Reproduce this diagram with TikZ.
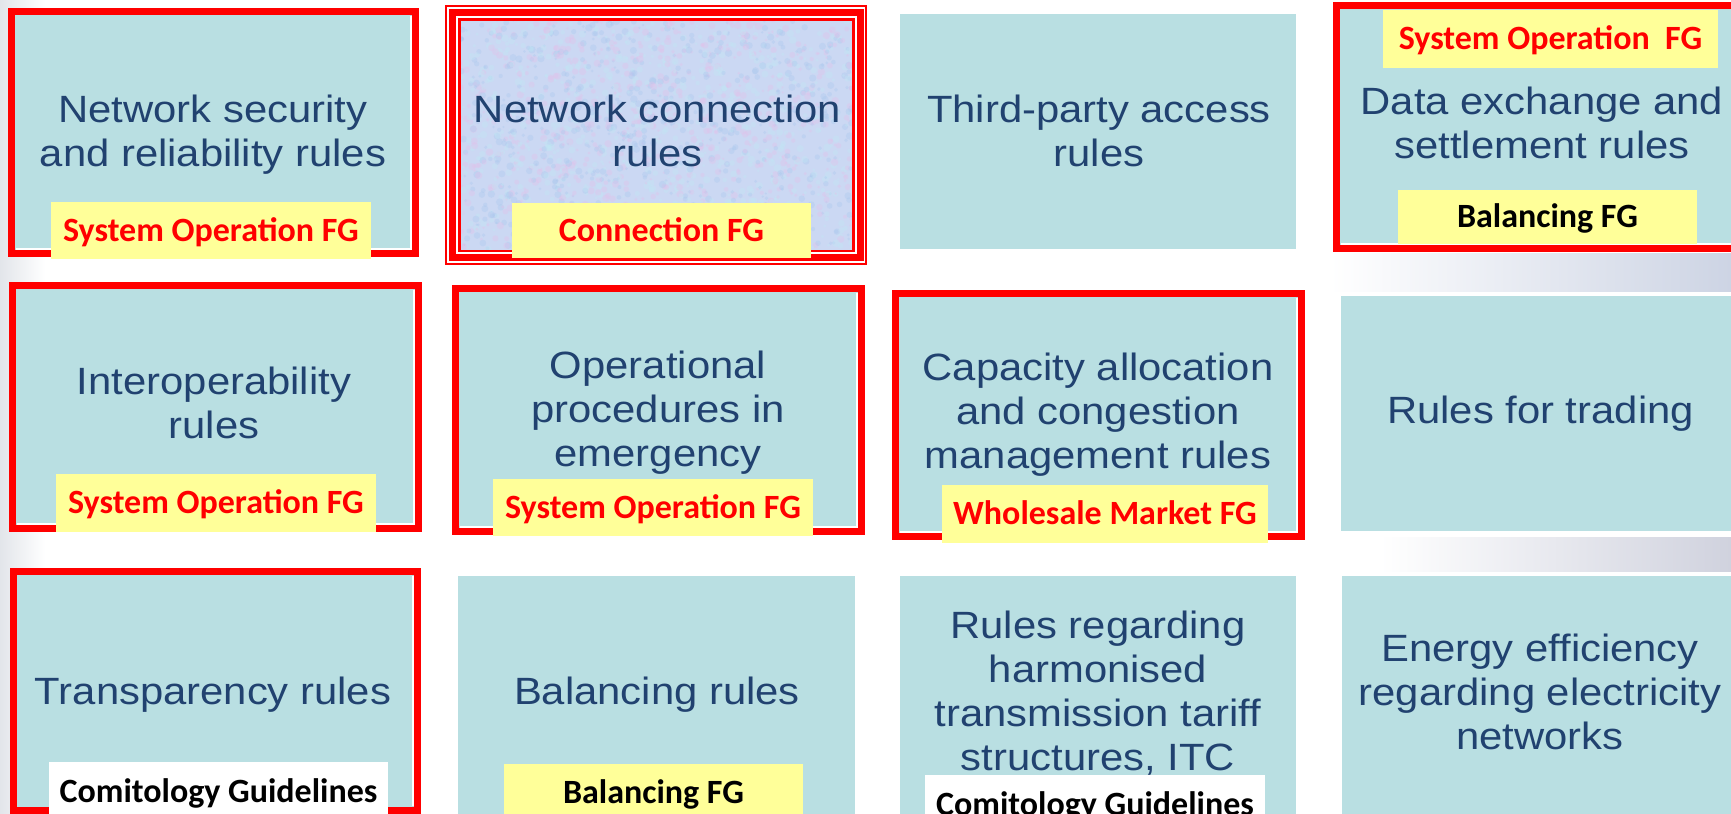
\documentclass[tikz,border=0pt]{standalone}
\usepackage{fontspec}
\setmainfont{Liberation Sans}[FakeStretch=1.1]
\newfontfamily\lblfont{Carlito}
\usetikzlibrary{fit}
\definecolor{tealfill}{RGB}{185,223,226}
\definecolor{txtblue}{RGB}{33,66,112}
\definecolor{lblyellow}{RGB}{255,255,153}
\definecolor{redline}{RGB}{255,0,0}
\definecolor{connfill}{RGB}{203,216,243}
\definecolor{tpink}{RGB}{228,192,234}
\definecolor{tblue}{RGB}{170,200,238}
\definecolor{tcyan}{RGB}{192,232,244}
\definecolor{bggrey}{RGB}{226,229,234}
\definecolor{stripA}{RGB}{205,212,228}
\definecolor{stripB}{RGB}{208,210,222}
\begin{document}
\begin{tikzpicture}[x=0.5pt,y=-0.5pt,
  plainbox/.style={inner sep=0pt, outer sep=0pt, fill=tealfill, draw=none},
  redbox/.style={plainbox, draw=redline, line width=3.3pt},
  thinred/.style={inner sep=0pt, outer sep=0pt, draw=redline},
  maintext/.style={font=\fontsize{19}{22}\selectfont, text=txtblue, align=center, inner sep=0pt},
  lbl/.style={inner sep=0pt, outer sep=0pt, fill=lblyellow, font=\lblfont\bfseries\fontsize{17}{18}\selectfont, text height=10.95pt, text depth=0pt},
  redlbl/.style={lbl, text=redline},
  blklbl/.style={lbl, text=black},
  whitelbl/.style={lbl, fill=white, text=black},
  innerwhite/.style={white, line width=1.3pt}
]
\useasboundingbox (0,0) rectangle (1731,814);
\clip (0,0) rectangle (1731,814);

% faint background
\shade[left color=bggrey, right color=white] (0,0) rectangle (45,814);
\shade[left color=white, right color=stripA] (1330,253) rectangle (1731,291);
\shade[left color=white, right color=stripB] (1380,537) rectangle (1731,571);

% ---- row 1 ----
\node[redbox, fit={(11.3,11.3) (415.7,253.7)}] (b1) {};
\draw[innerwhite] ([shift={(-2.3pt,-2.3pt)}]b1.north east) -- ([shift={(-2.3pt,2.3pt)}]b1.south east) -- ([shift={(2.3pt,2.3pt)}]b1.south west);

\node[inner sep=0pt, outer sep=0pt, fill=connfill, fit={(459.5,19.5) (853.5,251)}] (b2) {};
\begin{scope}
  \clip (459.5,19.5) rectangle (853.5,251);
  \pgfmathsetseed{7}
  \pgfmathdeclarerandomlist{texcols}{{tpink}{tblue}{tcyan}}
  \foreach \i in {1,...,2200}{
    \pgfmathsetmacro{\px}{459+395*rnd}
    \pgfmathsetmacro{\py}{19+232*rnd}
    \pgfmathsetmacro{\pr}{0.6+1.3*rnd}
    \pgfmathrandomitem{\cc}{texcols}
    \fill[\cc, opacity=0.35] (\px,\py) circle[radius=\pr pt];
  }
\end{scope}
\node[thinred, line width=1pt, fit={(446,6) (865.5,263.5)}] (b2outer) {};
\node[thinred, line width=3.5pt, fit={(452.5,12.5) (860,257.5)}] (b2mid) {};
\draw[redline, line width=1.15pt] (b2.south west) rectangle (b2.north east);

\node[plainbox, fit={(900,14) (1296,249)}] (b3) {};

\node[redbox, fit={(1336.3,5.3) (1760,248.7)}] (b4) {};
\draw[innerwhite] ([shift={(2.3pt,2.3pt)}]b4.south west) -- ([shift={(-2.3pt,2.3pt)}]b4.south east);

% ---- row 2 ----
\node[redbox, fit={(12.3,285.3) (418.7,528.7)}] (b5) {};
\draw[innerwhite] ([shift={(-2.3pt,-2.3pt)}]b5.north east) -- ([shift={(-2.3pt,2.3pt)}]b5.south east) -- ([shift={(2.3pt,2.3pt)}]b5.south west);
\node[redbox, fit={(455.3,288.3) (861.7,531.7)}] (b6) {};
\draw[innerwhite] ([shift={(-2.3pt,-2.3pt)}]b6.north east) -- ([shift={(-2.3pt,2.3pt)}]b6.south east) -- ([shift={(2.3pt,2.3pt)}]b6.south west);
\node[redbox, fit={(895.3,293.3) (1301.7,536.7)}] (b7) {};
\draw[innerwhite] ([shift={(-2.3pt,-2.3pt)}]b7.north east) -- ([shift={(-2.3pt,2.3pt)}]b7.south east) -- ([shift={(2.3pt,2.3pt)}]b7.south west);
\node[plainbox, fit={(1341,296) (1760,531)}] (b8) {};

% ---- row 3 ----
\node[redbox, fit={(13.3,571.3) (417.7,810.7)}] (b9) {};
\draw[innerwhite] ([shift={(-2.3pt,-2.3pt)}]b9.north east) -- ([shift={(-2.3pt,2.3pt)}]b9.south east);
\node[plainbox, fit={(458,576) (855,830)}] (b10) {};
\node[plainbox, fit={(900,576) (1296,830)}] (b11) {};
\node[plainbox, fit={(1342,576) (1760,830)}] (b12) {};

% ---- main texts ----
\node[maintext] (t1) at (213,135) {Network security\\and reliability rules};
\node[maintext] (t2) at (657.5,130.5) {Network connection\\rules};
\node[maintext] (t3) at (1099,130.5) {Third-party access\\rules};
\node[maintext] (t4) at (1542,122.5) {Data exchange and\\settlement rules};
\node[maintext] (t5) at (214,402.5) {Interoperability\\rules};
\node[maintext] (t6) at (658,413) {Operational\\procedures in\\emergency};
\node[maintext] (t7) at (1098,414.5) {Capacity allocation\\and congestion\\management rules};
\node[maintext] (t8) at (1540.5,413.5) {Rules for trading};
\node[maintext] (t9) at (213,695) {Transparency rules};
\node[maintext] (t10) at (657,695) {Balancing rules};
\node[maintext] (t11) at (1098,693.5) {Rules regarding\\harmonised\\transmission tariff\\structures, ITC};
\node[maintext] (t12) at (1540,691.5) {Energy efficiency\\regarding electricity\\networks};

% ---- FG labels ----
\node[redlbl, minimum width=160pt, minimum height=28.5pt] (l1) at (211,230.5) {System Operation FG};
\node[redlbl, minimum width=149.5pt, minimum height=27.5pt] (l2) at (661.5,230.5) {Connection FG};
\node[redlbl, minimum width=167.5pt, minimum height=29pt] (l4a) at (1550.5,39) {System Operation~ FG};
\node[blklbl, minimum width=149.5pt, minimum height=27pt] (l4b) at (1547.5,217) {Balancing FG};
\node[redlbl, minimum width=160pt, minimum height=29pt] (l5) at (216,503) {System Operation FG};
\node[redlbl, minimum width=160pt, minimum height=28.5pt] (l6) at (653,507.5) {System Operation FG};
\node[redlbl, minimum width=163pt, minimum height=29pt] (l7) at (1105,514) {Wholesale Market FG};
\node[whitelbl, minimum width=169.5pt, minimum height=30pt] (l9) at (218.5,792) {Comitology Guidelines};
\node[blklbl, minimum width=149.5pt, minimum height=28.5pt] (l10) at (653.5,792.5) {Balancing FG};
\node[whitelbl, minimum width=170pt, minimum height=30pt] (l11) at (1095,805) {Comitology Guidelines};
\end{tikzpicture}
\end{document}
